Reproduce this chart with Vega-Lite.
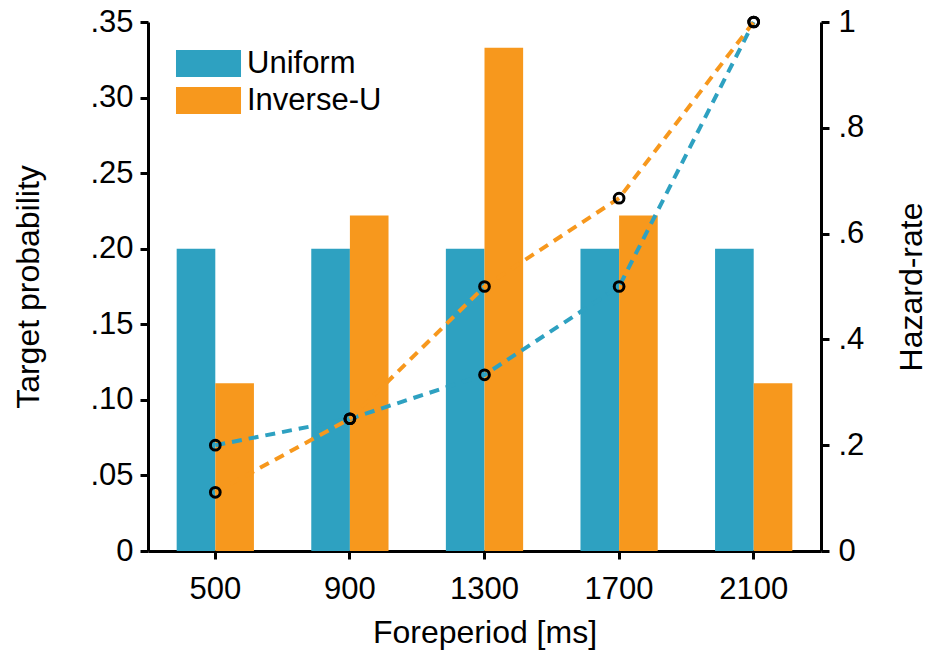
{
  "$schema": "https://vega.github.io/schema/vega-lite/v6.json",
  "width": 673,
  "height": 529,
  "autosize": {"type": "none"},
  "padding": {"left": 148, "top": 22, "right": 107, "bottom": 101},
  "background": "white",
  "config": {
    "font": "Liberation Sans",
    "view": {"stroke": null},
    "axis": {
      "grid": false,
      "domainColor": "black",
      "domainWidth": 3,
      "tickColor": "black",
      "tickWidth": 3,
      "tickSize": 8,
      "labelFont": "Liberation Sans",
      "labelFontSize": 31,
      "labelColor": "black",
      "titleFont": "Liberation Sans",
      "titleFontSize": 32,
      "titleFontWeight": "normal",
      "titleColor": "black"
    },
    "legend": {
      "labelFont": "Liberation Sans"
    }
  },
  "data": {
    "values": [
      {"foreperiod": 500, "distribution": "Uniform", "probability": 0.2, "hazard": 0.2},
      {"foreperiod": 900, "distribution": "Uniform", "probability": 0.2, "hazard": 0.25},
      {"foreperiod": 1300, "distribution": "Uniform", "probability": 0.2, "hazard": 0.333},
      {"foreperiod": 1700, "distribution": "Uniform", "probability": 0.2, "hazard": 0.5},
      {"foreperiod": 2100, "distribution": "Uniform", "probability": 0.2, "hazard": 1.0},
      {"foreperiod": 500, "distribution": "Inverse-U", "probability": 0.111, "hazard": 0.111},
      {"foreperiod": 900, "distribution": "Inverse-U", "probability": 0.222, "hazard": 0.25},
      {"foreperiod": 1300, "distribution": "Inverse-U", "probability": 0.333, "hazard": 0.5},
      {"foreperiod": 1700, "distribution": "Inverse-U", "probability": 0.222, "hazard": 0.667},
      {"foreperiod": 2100, "distribution": "Inverse-U", "probability": 0.111, "hazard": 1.0}
    ]
  },
  "encoding": {
    "x": {
      "field": "foreperiod",
      "type": "ordinal",
      "scale": {"type": "band", "paddingInner": 0.426, "paddingOuter": 0.213},
      "axis": {
        "title": "Foreperiod [ms]",
        "labelAngle": 0,
        "labelPadding": 15.5,
        "titleBaseline": "alphabetic",
        "titleX": 336.5,
        "titleY": 91
      }
    }
  },
  "layer": [
    {
      "mark": {"type": "bar"},
      "encoding": {
        "xOffset": {
          "field": "distribution",
          "type": "nominal",
          "scale": {"domain": ["Uniform", "Inverse-U"], "paddingInner": 0, "paddingOuter": 0}
        },
        "y": {
          "field": "probability",
          "type": "quantitative",
          "scale": {"domain": [0, 0.35], "nice": false, "zero": true},
          "axis": {
            "title": "Target probability",
            "values": [0, 0.05, 0.1, 0.15, 0.2, 0.25, 0.3, 0.35],
            "labelExpr": "datum.value == 0 ? '0' : replace(format(datum.value, '.2f'), '0.', '.')",
            "labelPadding": 7,
            "titleAngle": 270,
            "titleBaseline": "alphabetic",
            "titleAlign": "center",
            "titleX": -110,
            "titleY": 264.5
          }
        },
        "color": {
          "field": "distribution",
          "type": "nominal",
          "scale": {"domain": ["Uniform", "Inverse-U"], "range": ["#2EA1C1", "#F7981D"]},
          "legend": {
            "title": null,
            "orient": "none",
            "legendX": 45,
            "legendY": 26,
            "padding": 0,
            "symbolType": "M-2.39,-1H2.39V1H-2.39Z",
            "symbolSize": 740,
            "symbolStrokeWidth": 0,
            "symbolOpacity": 1,
            "labelFontSize": 31,
            "labelColor": "black",
            "labelOffset": 23,
            "rowPadding": 5
          }
        }
      }
    },
    {
      "mark": {"type": "line", "strokeDash": [10, 7], "strokeWidth": 4},
      "encoding": {
        "y": {
          "field": "hazard",
          "type": "quantitative",
          "scale": {"domain": [0, 1], "nice": false},
          "axis": {
            "orient": "right",
            "title": "Hazard-rate",
            "values": [0, 0.2, 0.4, 0.6, 0.8, 1],
            "labelExpr": "datum.value == 0 ? '0' : datum.value == 1 ? '1' : replace(format(datum.value, '.1f'), '0.', '.')",
            "labelPadding": 9,
            "titleAngle": 270,
            "titleBaseline": "alphabetic",
            "titleAlign": "center",
            "titleX": 100,
            "titleY": 264.5
          }
        },
        "stroke": {
          "field": "distribution",
          "type": "nominal",
          "scale": {"domain": ["Uniform", "Inverse-U"], "range": ["#2EA1C1", "#F7981D"]},
          "legend": null
        }
      }
    },
    {
      "mark": {"type": "point", "filled": false, "color": "black", "strokeWidth": 3, "size": 95, "opacity": 1},
      "encoding": {
        "y": {"field": "hazard", "type": "quantitative", "scale": {"domain": [0, 1], "nice": false}, "axis": null},
        "detail": {"field": "distribution", "type": "nominal"}
      }
    }
  ],
  "resolve": {"scale": {"y": "independent"}}
}
